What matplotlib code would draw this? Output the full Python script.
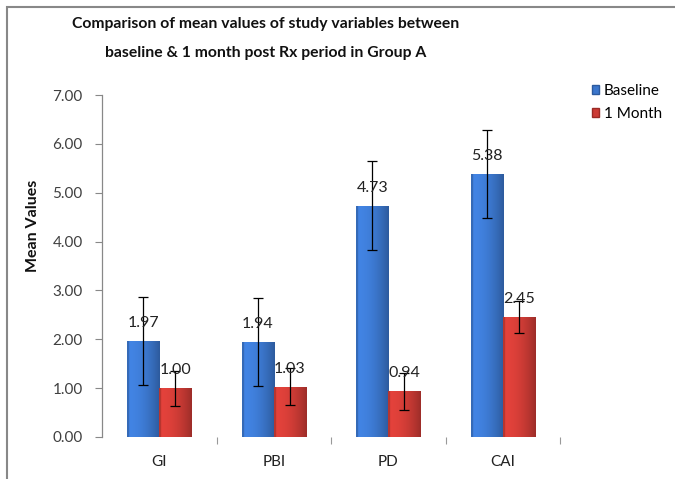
import numpy as np
import matplotlib.pyplot as plt
from matplotlib.patches import Patch, Rectangle
from matplotlib.colors import to_rgb

categories = ['GI', 'PBI', 'PD', 'CAI']
baseline = [1.97, 1.94, 4.73, 5.38]
month1 = [1.00, 1.03, 0.94, 2.45]
baseline_sd = [0.90, 0.90, 0.91, 0.90]
month1_sd = [0.36, 0.38, 0.38, 0.33]
series_names = ['Baseline', '1 Month']

plt.rcParams['font.family'] = ['Lato', 'DejaVu Sans']

fig = plt.figure(figsize=(6.75, 4.79), dpi=100)
ax = fig.add_axes([102/675, 1-437/479, (560-102)/675, (437-95)/479])

x = np.arange(len(categories))
w = 0.28
blue = '#3b76cc'
red = '#cc3b35'

b1 = ax.bar(x - w/2, baseline, w, color=blue, edgecolor='#2c5a9e', linewidth=0.6)
b2 = ax.bar(x + w/2, month1, w, color=red, edgecolor='#9a2a25', linewidth=0.6)

# shade each bar: a bit lighter on the left, darker toward the right edge
def shade(c):
    base = np.array(to_rgb(c))
    t = np.linspace(0, 1, 60)
    f = 1.12 - 0.35 * t**2
    f[:4] = 0.9
    rgb = np.clip(base[None, :] * f[:, None], 0, 1)
    return rgb[None, :, :]

for bars, c in ((b1, blue), (b2, red)):
    img = shade(c)
    for b in bars:
        bx, by = b.get_x(), b.get_y()
        bw, bh = b.get_width(), b.get_height()
        im = ax.imshow(img, extent=[bx, bx+bw, by, by+bh], aspect='auto', zorder=2.1)
        im.set_clip_path(b)

ax.errorbar(x - w/2, baseline, yerr=baseline_sd, fmt='none', ecolor='black',
            elinewidth=0.9, capsize=3.3, capthick=0.9, zorder=4)
ax.errorbar(x + w/2, month1, yerr=month1_sd, fmt='none', ecolor='black',
            elinewidth=0.9, capsize=3.3, capthick=0.9, zorder=4)

for xs, vals in ((x - w/2, baseline), (x + w/2, month1)):
    for xi, v in zip(xs, vals):
        ax.annotate('%.2f' % v, (xi, v), xytext=(0, 11), textcoords='offset pixels',
                    ha='center', va='bottom', fontsize=11.5, color='#222222', zorder=5)

ax.set_xlim(-0.5, 3.5)
ax.set_ylim(0, 7)
ax.set_yticks(np.arange(0, 8, 1))
ax.set_yticklabels(['%.2f' % v for v in np.arange(0, 8, 1)], fontsize=11, color='#404040')
ax.set_xticks(x)
ax.set_xticklabels(categories, fontsize=11, color='#222222')
ax.set_xticks(list(x[:-1] + 0.5) + [3.5], minor=True)
ax.tick_params(axis='x', which='major', length=0, pad=13)
ax.tick_params(axis='x', which='minor', length=5, color='#999999', width=0.8)
ax.tick_params(axis='y', length=5, color='#888888', width=0.8, pad=9)

for s in ['top', 'right', 'bottom']:
    ax.spines[s].set_visible(False)
ax.spines['left'].set_color('#888888')
ax.spines['left'].set_linewidth(0.9)

fig.text(266/675, 1-24/479, 'Comparison of mean values of study variables between',
         ha='center', va='center', fontsize=11.3, fontweight='bold', color='#111111')
fig.text(266/675, 1-53/479, 'baseline & 1 month post Rx period in Group A',
         ha='center', va='center', fontsize=11.3, fontweight='bold', color='#111111')
fig.text(33/675, 1-226/479, 'Mean Values', rotation=90, ha='center', va='center',
         fontsize=11.5, fontweight='bold', color='#111111')

handles = [Patch(facecolor=blue, edgecolor='#2c5a9e'), Patch(facecolor=red, edgecolor='#9a2a25')]
fig.legend(handles, series_names, loc='upper left', bbox_to_anchor=(578/675, 1-70/479),
           frameon=False, fontsize=11, handlelength=0.5, handleheight=0.5,
           handletextpad=0.3, labelspacing=0.6)

fig.patches.append(Rectangle((7/675, -0.1), 1.2, 1-7/479+0.1, transform=fig.transFigure,
                             fill=False, edgecolor='#888888', linewidth=1.5))

fig.savefig('out.png', dpi=100)
